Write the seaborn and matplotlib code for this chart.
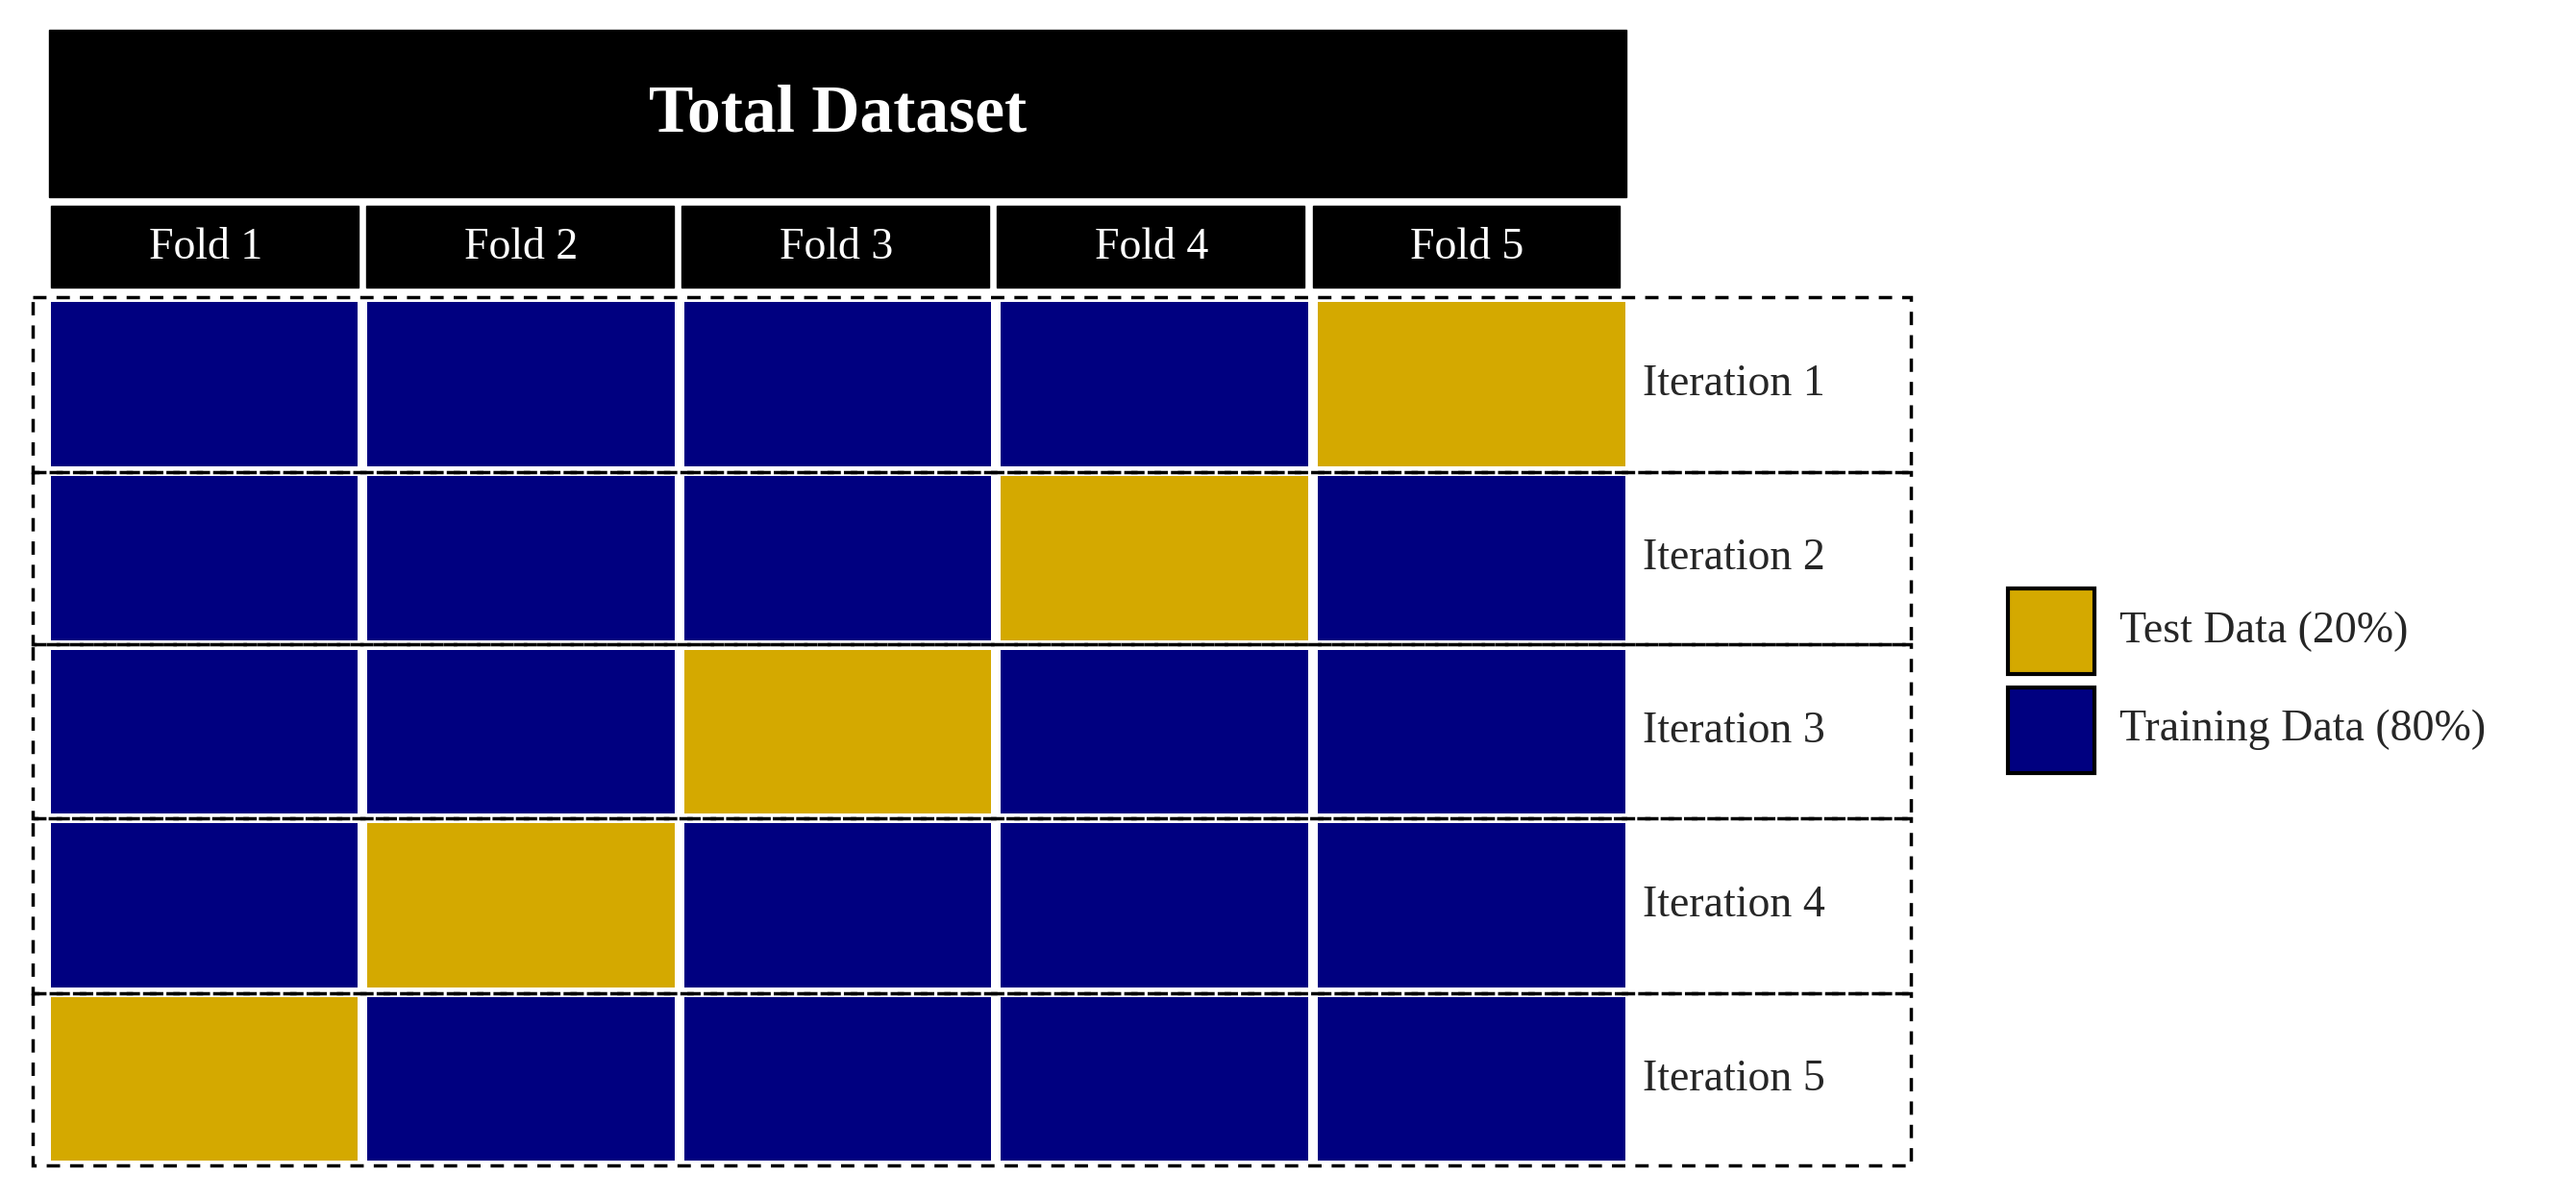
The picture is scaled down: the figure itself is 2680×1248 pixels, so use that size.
import matplotlib
matplotlib.use("Agg")
import matplotlib.pyplot as plt
from matplotlib.patches import Rectangle
from matplotlib.colors import ListedColormap
import numpy as np
import seaborn as sns

folds = ["Fold 1", "Fold 2", "Fold 3", "Fold 4", "Fold 5"]
iterations = ["Iteration 1", "Iteration 2", "Iteration 3", "Iteration 4", "Iteration 5"]
test_fold_per_iter = [5, 4, 3, 2, 1]
legend_labels = ["Test Data (20%)", "Training Data (80%)"]
navy = "#000080"
gold = "#D4A900"

sns.set_theme(style="white")
plt.rcParams['font.family'] = ['Liberation Serif', 'DejaVu Serif']

W, H = 1568, 730
fig = plt.figure(figsize=(26.8, 12.48), dpi=100)

mat = np.zeros((5, 5))
for i, f in enumerate(test_fold_per_iter):
    mat[i, f - 1] = 1

gx0, gx1, gy0, gy1 = 28, 992, 181, 709
axh = fig.add_axes([gx0 / W, 1 - gy1 / H, (gx1 - gx0) / W, (gy1 - gy0) / H])
sns.heatmap(mat, ax=axh, cmap=ListedColormap([navy, gold]), cbar=False,
            linewidths=6, linecolor="white", vmin=0, vmax=1)
axh.set_xticks([]); axh.set_yticks([])
axh.set_xlabel(""); axh.set_ylabel("")

ax = fig.add_axes([0, 0, 1, 1])
ax.set_xlim(0, W); ax.set_ylim(H, 0)
ax.axis("off")
ax.patch.set_visible(False)
ax.set_zorder(2)

ax.add_patch(Rectangle((30, 18), 960, 102, color="black"))
ax.text(510, 70, "Total Dataset", color="white", fontsize=50, fontweight="bold",
        ha="center", va="center")
cw = 960 / 5
for i, f in enumerate(folds):
    x = 30 + i * cw
    ax.add_patch(Rectangle((x + 1, 125), cw - 5, 50, color="black"))
    ax.text(x + cw / 2 - 1, 151, f, color="white", fontsize=33, ha="center", va="center")

rows = [181, 287, 392, 498, 604, 709]
for i, it in enumerate(iterations):
    ax.add_patch(Rectangle((20, rows[i]), 1143, rows[i + 1] - rows[i], fill=False,
                           edgecolor="black", linestyle=(0, (4, 3)), linewidth=2.5))
    ax.text(1000, (rows[i] + rows[i + 1]) / 2, it, fontsize=33, ha="left", va="center")

for j, (lab, c) in enumerate(zip(legend_labels, [gold, navy])):
    y = 358 + j * 60
    ax.add_patch(Rectangle((1222, y), 53, 52, facecolor=c, edgecolor="black", linewidth=3))
    ax.text(1290, y + 26, lab, fontsize=33, ha="left", va="center")

fig.savefig("out.png", dpi=100, facecolor="white")
